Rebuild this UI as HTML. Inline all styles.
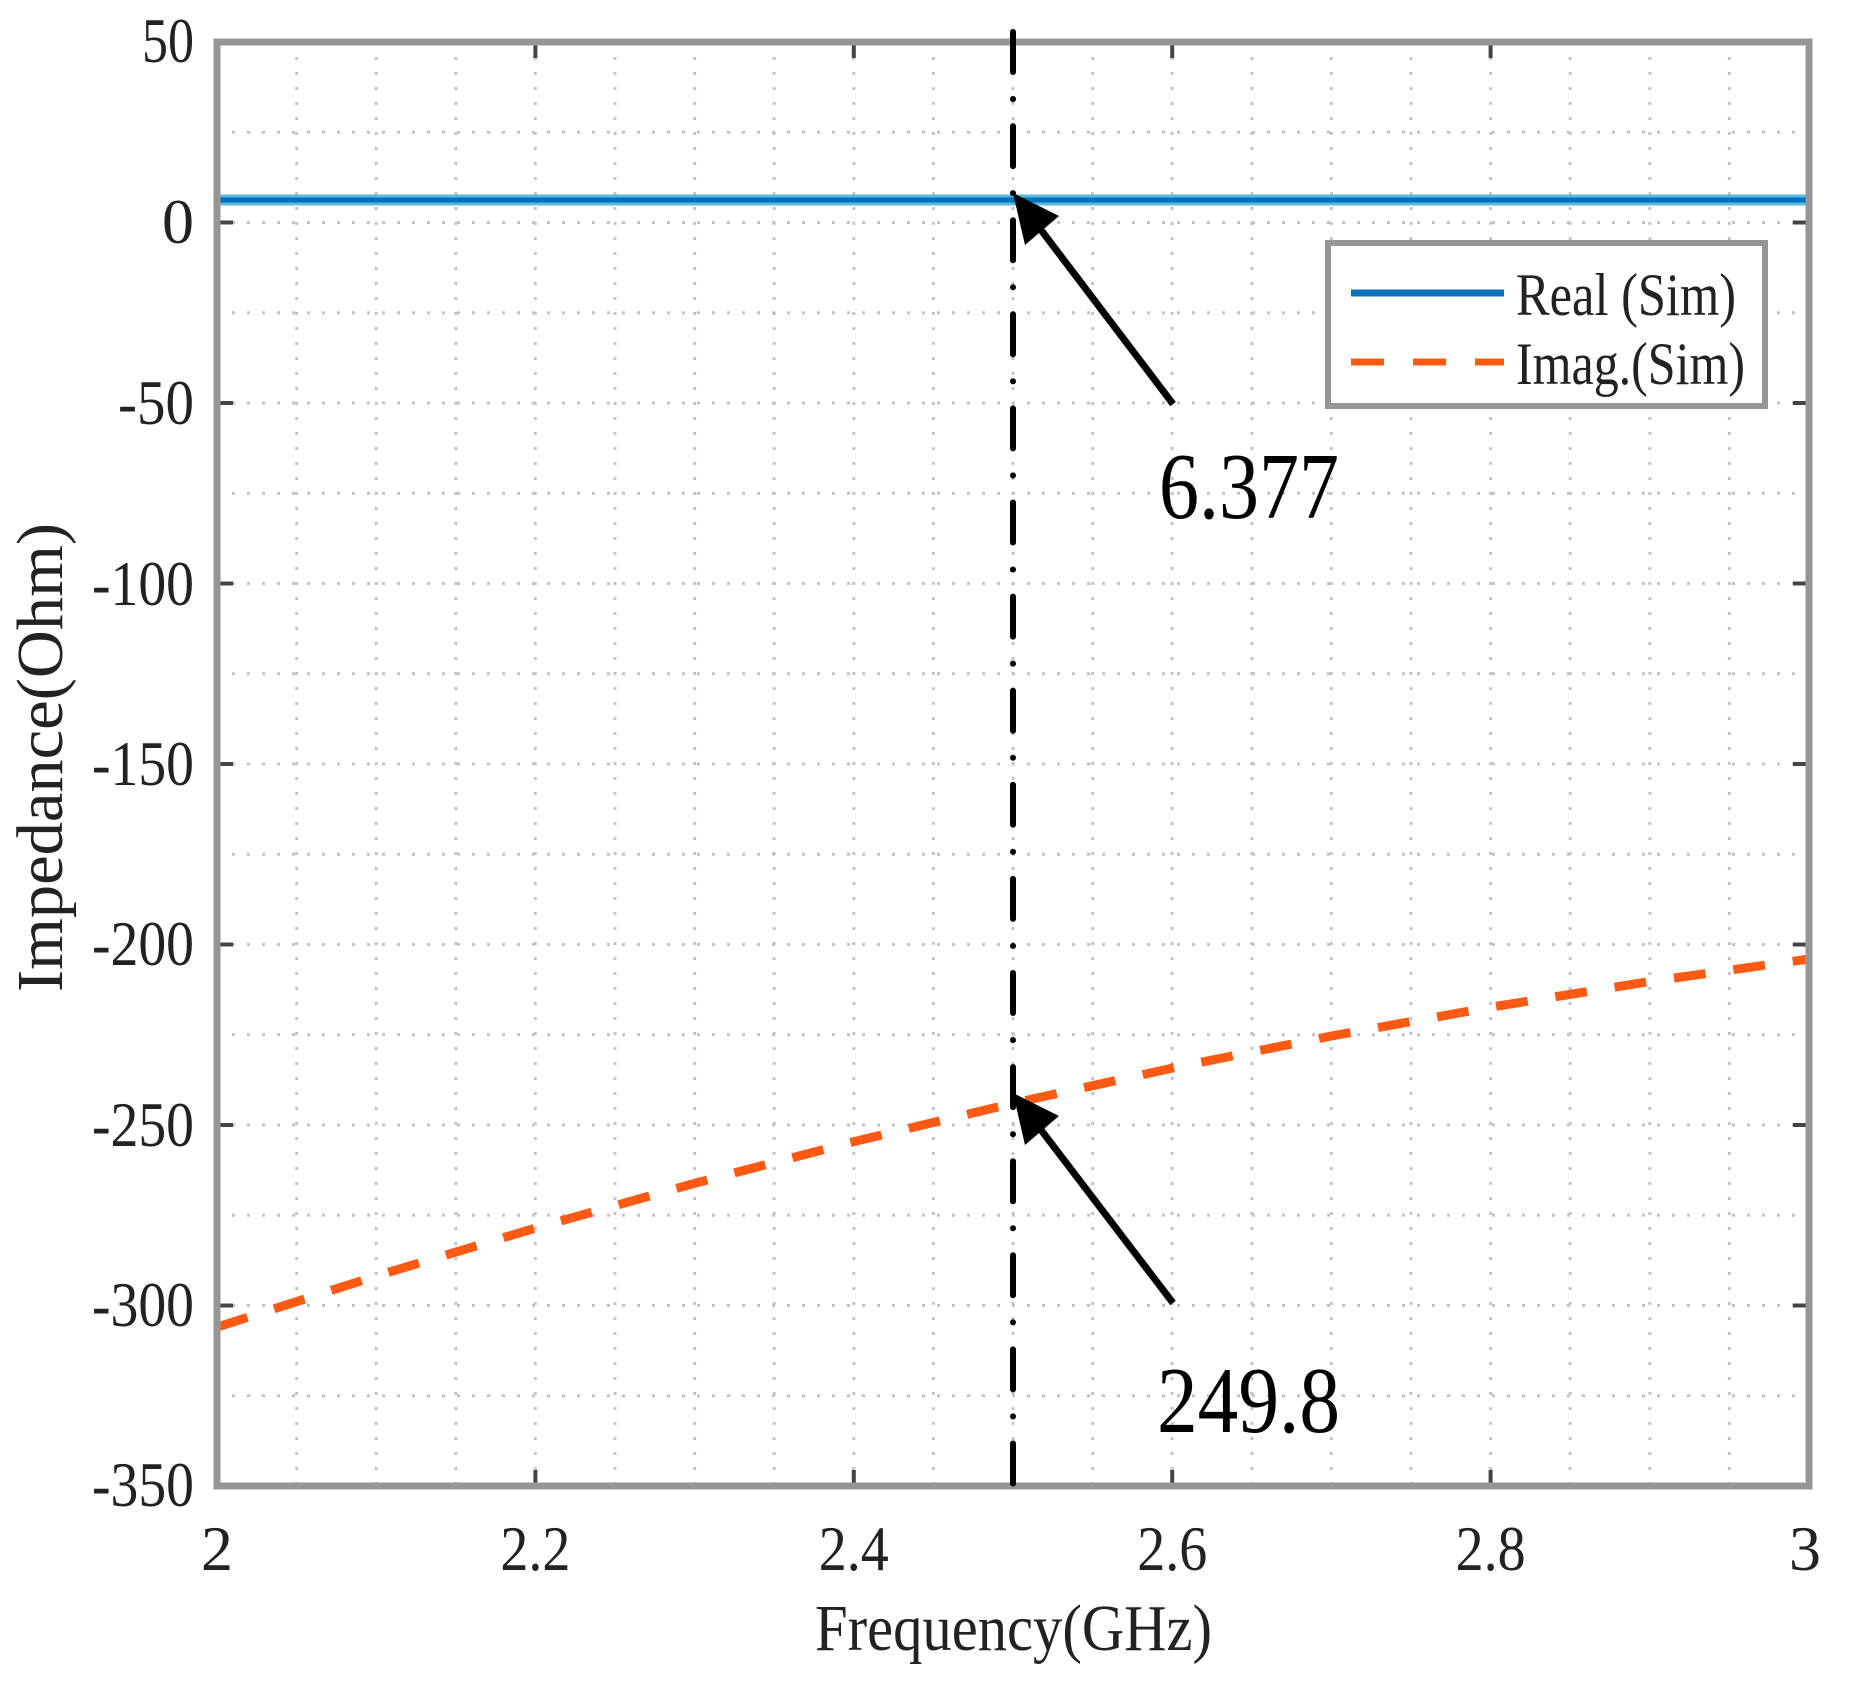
<!DOCTYPE html>
<html><head><meta charset="utf-8"><style>
html,body{margin:0;padding:0;background:#fff;}
svg{display:block;}
text{font-family:"Liberation Serif","Times New Roman",serif;fill:#222;}
</style></head><body>
<svg width="1871" height="1688" viewBox="0 0 1871 1688" xmlns="http://www.w3.org/2000/svg">
<rect width="1871" height="1688" fill="#fff"/>
<!-- grid -->
<g stroke="#c4c4c4" stroke-width="3" stroke-dasharray="3 12">
<line x1="296.6" y1="42" x2="296.6" y2="1486"/><line x1="376.2" y1="42" x2="376.2" y2="1486"/><line x1="455.8" y1="42" x2="455.8" y2="1486"/><line x1="535.4" y1="42" x2="535.4" y2="1486"/><line x1="615" y1="42" x2="615" y2="1486"/><line x1="694.6" y1="42" x2="694.6" y2="1486"/><line x1="774.2" y1="42" x2="774.2" y2="1486"/><line x1="853.8" y1="42" x2="853.8" y2="1486"/><line x1="933.4" y1="42" x2="933.4" y2="1486"/><line x1="1013" y1="42" x2="1013" y2="1486"/><line x1="1092.6" y1="42" x2="1092.6" y2="1486"/><line x1="1172.2" y1="42" x2="1172.2" y2="1486"/><line x1="1251.8" y1="42" x2="1251.8" y2="1486"/><line x1="1331.4" y1="42" x2="1331.4" y2="1486"/><line x1="1411" y1="42" x2="1411" y2="1486"/><line x1="1490.6" y1="42" x2="1490.6" y2="1486"/><line x1="1570.2" y1="42" x2="1570.2" y2="1486"/><line x1="1649.8" y1="42" x2="1649.8" y2="1486"/><line x1="1729.4" y1="42" x2="1729.4" y2="1486"/>
<line x1="217" y1="132.25" x2="1809" y2="132.25"/><line x1="217" y1="222.5" x2="1809" y2="222.5"/><line x1="217" y1="312.75" x2="1809" y2="312.75"/><line x1="217" y1="403" x2="1809" y2="403"/><line x1="217" y1="493.25" x2="1809" y2="493.25"/><line x1="217" y1="583.5" x2="1809" y2="583.5"/><line x1="217" y1="673.75" x2="1809" y2="673.75"/><line x1="217" y1="764" x2="1809" y2="764"/><line x1="217" y1="854.25" x2="1809" y2="854.25"/><line x1="217" y1="944.5" x2="1809" y2="944.5"/><line x1="217" y1="1034.75" x2="1809" y2="1034.75"/><line x1="217" y1="1125" x2="1809" y2="1125"/><line x1="217" y1="1215.25" x2="1809" y2="1215.25"/><line x1="217" y1="1305.5" x2="1809" y2="1305.5"/><line x1="217" y1="1395.75" x2="1809" y2="1395.75"/>
</g>
<!-- ticks -->
<g stroke="#444" stroke-width="4">
<line x1="535.4" y1="1486" x2="535.4" y2="1470"/><line x1="853.8" y1="1486" x2="853.8" y2="1470"/><line x1="1172.2" y1="1486" x2="1172.2" y2="1470"/><line x1="1490.6" y1="1486" x2="1490.6" y2="1470"/>
<line x1="535.4" y1="42" x2="535.4" y2="58"/><line x1="853.8" y1="42" x2="853.8" y2="58"/><line x1="1172.2" y1="42" x2="1172.2" y2="58"/><line x1="1490.6" y1="42" x2="1490.6" y2="58"/>
<line x1="217" y1="222.5" x2="233" y2="222.5"/><line x1="217" y1="403" x2="233" y2="403"/><line x1="217" y1="583.5" x2="233" y2="583.5"/><line x1="217" y1="764" x2="233" y2="764"/><line x1="217" y1="944.5" x2="233" y2="944.5"/><line x1="217" y1="1125" x2="233" y2="1125"/><line x1="217" y1="1305.5" x2="233" y2="1305.5"/>
<line x1="1809" y1="222.5" x2="1793" y2="222.5"/><line x1="1809" y1="403" x2="1793" y2="403"/><line x1="1809" y1="583.5" x2="1793" y2="583.5"/><line x1="1809" y1="764" x2="1793" y2="764"/><line x1="1809" y1="944.5" x2="1793" y2="944.5"/><line x1="1809" y1="1125" x2="1793" y2="1125"/><line x1="1809" y1="1305.5" x2="1793" y2="1305.5"/>
</g>
<!-- series -->
<line x1="217" y1="200" x2="1809" y2="200" stroke="#5ab8e0" stroke-width="11"/>
<line x1="217" y1="200" x2="1809" y2="200" stroke="#0072BD" stroke-width="5"/>
<polyline fill="none" stroke="#FF5A14" stroke-width="9" stroke-dasharray="32 28" points="217,1327.2 376.2,1276 535.4,1228.1 694.6,1183.3 853.8,1141.7 1013,1103.3 1172.2,1068.1 1331.4,1036 1490.6,1007.2 1649.8,981.5 1809,959"/>
<!-- frame -->
<rect x="217" y="42" width="1592" height="1444" fill="none" stroke="#969696" stroke-width="7"/>
<!-- vertical dash-dot marker -->
<line x1="1013" y1="32" x2="1013" y2="1504" stroke="#000" stroke-width="6" stroke-linecap="round" stroke-dasharray="40 27 0.1 27"/>
<!-- arrows -->
<g stroke="#000" stroke-width="7">
<line x1="1173" y1="404" x2="1035" y2="222"/>
<line x1="1173" y1="1303" x2="1035" y2="1122"/>
</g>
<polygon points="1013,193 1059,216 1025,245" fill="#000"/>
<polygon points="1013,1093 1059,1116 1025,1145" fill="#000"/>
<!-- legend -->
<rect x="1328" y="243" width="437" height="163" fill="#fff" stroke="#969696" stroke-width="6"/>
<line x1="1351" y1="293" x2="1504" y2="293" stroke="#0072BD" stroke-width="7"/>
<line x1="1351" y1="362" x2="1504" y2="362" stroke="#FF5A14" stroke-width="7" stroke-dasharray="33 29"/>
<text x="1516" y="315" font-size="60" textLength="220" lengthAdjust="spacingAndGlyphs">Real (Sim)</text>
<text x="1516" y="384" font-size="60" textLength="229" lengthAdjust="spacingAndGlyphs">Imag.(Sim)</text>
<!-- y tick labels -->
<g font-size="64" text-anchor="end">
<text x="194" y="62" textLength="52" lengthAdjust="spacingAndGlyphs">50</text>
<text x="194" y="243">0</text>
<text x="194" y="424" textLength="76" lengthAdjust="spacingAndGlyphs">-50</text>
<text x="194" y="605" textLength="102" lengthAdjust="spacingAndGlyphs">-100</text>
<text x="194" y="785" textLength="102" lengthAdjust="spacingAndGlyphs">-150</text>
<text x="194" y="965" textLength="102" lengthAdjust="spacingAndGlyphs">-200</text>
<text x="194" y="1146" textLength="102" lengthAdjust="spacingAndGlyphs">-250</text>
<text x="194" y="1326" textLength="102" lengthAdjust="spacingAndGlyphs">-300</text>
<text x="194" y="1506" textLength="102" lengthAdjust="spacingAndGlyphs">-350</text>
</g>
<!-- x tick labels -->
<g font-size="64" text-anchor="middle">
<text x="217" y="1570">2</text>
<text x="535.4" y="1570" textLength="70" lengthAdjust="spacingAndGlyphs">2.2</text>
<text x="853.8" y="1570" textLength="70" lengthAdjust="spacingAndGlyphs">2.4</text>
<text x="1172.2" y="1570" textLength="70" lengthAdjust="spacingAndGlyphs">2.6</text>
<text x="1490.6" y="1570" textLength="70" lengthAdjust="spacingAndGlyphs">2.8</text>
<text x="1805" y="1570">3</text>
</g>
<!-- axis labels -->
<text x="815" y="1650" font-size="66" textLength="397" lengthAdjust="spacingAndGlyphs">Frequency(GHz)</text>
<text transform="translate(62,992) rotate(-90)" x="0" y="0" font-size="66" textLength="469" lengthAdjust="spacingAndGlyphs">Impedance(Ohm)</text>
<!-- annotations -->
<text x="1159" y="518" font-size="94" fill="#000" textLength="180" lengthAdjust="spacingAndGlyphs" style="fill:#000">6.377</text>
<text x="1157" y="1432" font-size="94" textLength="183" lengthAdjust="spacingAndGlyphs" style="fill:#000">249.8</text>
</svg>
</body></html>
